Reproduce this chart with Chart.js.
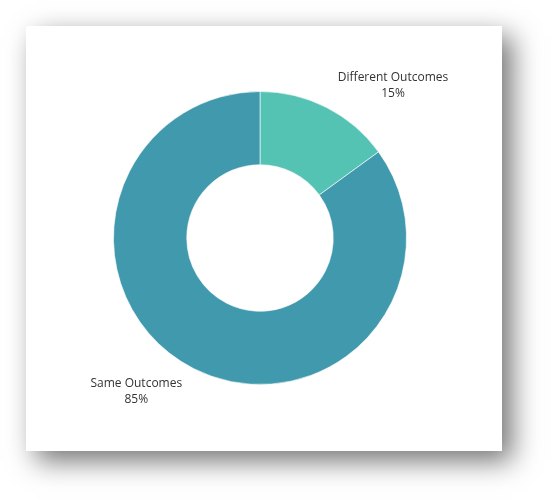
<!DOCTYPE html>
<html>
<head>
<meta charset="utf-8">
<script src="https://cdn.jsdelivr.net/npm/chart.js@4/dist/chart.umd.min.js"></script>
<style>
  html, body { margin: 0; padding: 0; background: #fff; width: 554px; height: 503px; overflow: hidden; }
  #card {
    position: absolute; left: 26px; top: 26px; width: 476px; height: 425px;
    background: #fff;
    box-shadow: 10px 10px 26px rgba(0,0,0,0.55);
  }
  #card canvas { position: absolute; left: 0; top: 0; }
</style>
</head>
<body>
<div id="card"><canvas id="c" width="476" height="425"></canvas></div>
<script>
const categories = ["Different Outcomes", "Same Outcomes"];
const values = [15, 85];
const valueLabels = ["15%", "85%"];
const colors = ["#55c3b3", "#4099ad"];

const outsideLabels = {
  id: 'outsideLabels',
  afterDatasetsDraw(chart) {
    const ctx = chart.ctx;
    const meta = chart.getDatasetMeta(0);
    ctx.save();
    ctx.font = '12px "Open Sans"';
    ctx.fillStyle = '#333';
    ctx.textBaseline = 'middle';
    meta.data.forEach((arc, i) => {
      const p = arc.getProps(['x', 'y', 'startAngle', 'endAngle', 'outerRadius'], true);
      const mid = (p.startAngle + p.endAngle) / 2;
      const d = p.outerRadius * 1.17;
      const ax = p.x + Math.cos(mid) * d;
      const ay = p.y + Math.sin(mid) * d;
      const right = Math.cos(mid) >= 0;
      const w1 = ctx.measureText(categories[i]).width;
      const lx = right ? ax : ax - w1;
      const cx = lx + w1 / 2;
      ctx.textAlign = 'center';
      ctx.fillText(categories[i], cx, ay - 7.5);
      ctx.fillText(valueLabels[i], cx, ay + 8.5);
    });
    ctx.restore();
  }
};

new Chart(document.getElementById('c'), {
  type: 'doughnut',
  data: {
    labels: categories,
    datasets: [{
      data: values,
      backgroundColor: colors,
      borderColor: 'rgba(255,255,255,0.6)',
      borderWidth: 1
    }]
  },
  options: {
    responsive: false,
    animation: false,
    cutout: '50%',
    layout: { padding: { top: 65, bottom: 66, left: 87, right: 95 } },
    plugins: { legend: { display: false }, tooltip: { enabled: false } }
  },
  plugins: [outsideLabels]
});
</script>
</body>
</html>
